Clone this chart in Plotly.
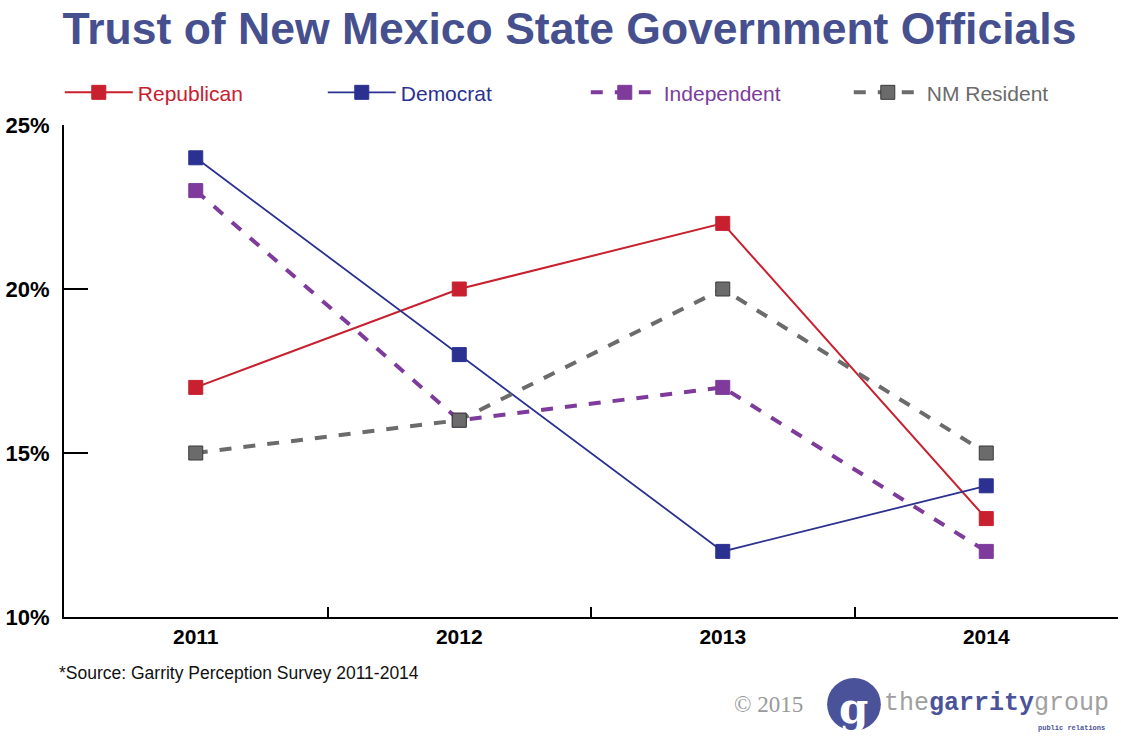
import plotly.graph_objects as go

# Survey years and share of respondents who trust state officials (%)
years = ["2011", "2012", "2013", "2014"]
republican = [17, 20, 22, 13]
democrat = [24, 18, 12, 14]
independent = [23, 16, 17, 12]
nm_resident = [15, 16, 20, 15]

y_ticks = [10, 15, 20, 25]
y_tick_text = ["10%", "15%", "20%", "25%"]

SANS = "Liberation Sans, Arial, Helvetica, sans-serif"
TITLE_BLUE = "#46508f"
LOGO_BLUE = "#4a5399"

series = [
    ("Republican", republican, "#c8202f", "solid", 2, "#c8202f"),
    ("Democrat", democrat, "#2b3191", "solid", 1.8, "#2b3191"),
    ("Independent", independent, "#7e3b9b", "dash", 4, "#7e3b9b"),
    ("NM Resident", nm_resident, "#6b6b6b", "dash", 4, "#3a3a3a"),
]

fig = go.Figure()
for name, vals, color, dash, width, edge in series:
    fig.add_trace(go.Scatter(
        x=years, y=vals, mode="lines+markers",
        name=f"<span style='color:{color}'>{name}</span>",
        line=dict(color=color, width=width, dash=dash),
        marker=dict(symbol="square", size=14, color=color,
                    line=dict(color=edge, width=1)),
    ))

fig.update_layout(
    width=1121, height=740,
    margin=dict(l=64, r=3, t=125, b=123),
    paper_bgcolor="white", plot_bgcolor="white",
    title=dict(
        text="Trust of New Mexico State Government Officials",
        font=dict(family=SANS, size=44.5, color=TITLE_BLUE, weight="bold"),
        x=0.508, xanchor="center", y=0.962, yanchor="middle",
    ),
    showlegend=True,
    legend=dict(
        orientation="h", x=-0.004, xanchor="left", y=1.024, yanchor="bottom",
        entrywidth=180, entrywidthmode="pixels",
        font=dict(family=SANS, size=21), itemwidth=68,
        bgcolor="rgba(0,0,0,0)",
    ),
    xaxis=dict(
        type="category", range=[-0.5, 3.5],
        showline=True, linecolor="black", linewidth=2,
        ticks="inside", ticklen=10, tickwidth=2, tickcolor="black",
        tickson="boundaries", showgrid=False, zeroline=False,
        tickfont=dict(family=SANS, size=21, color="black", weight="bold"),
        ticklabelstandoff=0,
    ),
    yaxis=dict(
        range=[10, 25], tickvals=y_ticks, ticktext=y_tick_text,
        showline=True, linecolor="black", linewidth=2,
        ticks="inside", ticklen=24, tickwidth=2, tickcolor="black",
        showgrid=False, zeroline=False,
        tickfont=dict(family=SANS, size=22, color="black", weight="bold"),
        ticklabelstandoff=8,
    ),
)

# Footer: source note, copyright and agency mark
fig.add_annotation(
    text="*Source: Garrity Perception Survey 2011-2014",
    xref="paper", yref="paper", x=-0.007, y=-0.113, xanchor="left", yanchor="middle",
    showarrow=False, font=dict(family=SANS, size=17.5, color="#111111"),
)
fig.add_annotation(
    text="© 2015", xref="paper", yref="paper", x=0.634, y=-0.178,
    xanchor="left", yanchor="middle", showarrow=False,
    font=dict(family="Liberation Serif, DejaVu Serif, serif", size=23, color="#9a9a9a"),
)
fig.add_shape(
    type="circle", xref="paper", yref="paper",
    x0=0.724, x1=0.775, y0=-0.231, y1=-0.124,
    fillcolor=LOGO_BLUE, line=dict(width=0),
)
fig.add_annotation(
    text="<b>g</b>", xref="paper", yref="paper", x=0.749, y=-0.186,
    xanchor="center", yanchor="middle", showarrow=False,
    font=dict(family="DejaVu Serif, serif", size=42, color="white"),
)
fig.add_annotation(
    text=f"the<b><span style='color:{LOGO_BLUE}'>garrity</span></b>group",
    xref="paper", yref="paper", x=0.776, y=-0.176, xanchor="left", yanchor="middle",
    showarrow=False,
    font=dict(family="Liberation Mono, DejaVu Sans Mono, monospace", size=25, color="#a0a0a0"),
)
fig.add_annotation(
    text="<b>public relations</b>", xref="paper", yref="paper", x=0.99, y=-0.225,
    xanchor="right", yanchor="middle", showarrow=False,
    font=dict(family="Liberation Mono, monospace", size=7, color=LOGO_BLUE),
)

fig.write_html("out.html")
